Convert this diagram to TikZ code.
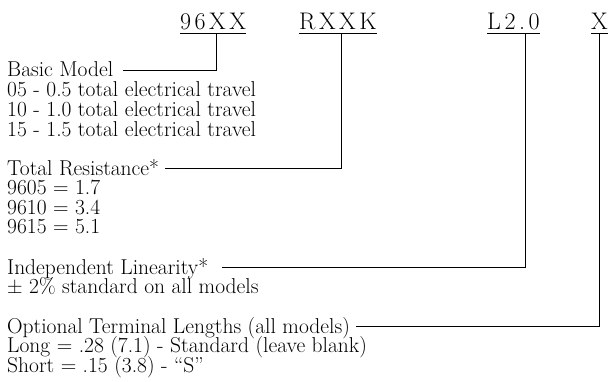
\documentclass[tikz,border=0pt]{standalone}
\usepackage{fontspec}
\usetikzlibrary{calc}
\newcommand{\gapk}{\kern3.5pt}
\begin{document}
\begin{tikzpicture}[x=1pt,y=-1pt,
  txt/.style={anchor=base west, inner sep=0pt, font=\fontsize{21.5}{22}\selectfont},
  code/.style={anchor=base west, inner sep=0pt, font=\fontsize{24}{26}\selectfont},
  conn/.style={line width=1pt},
]
\useasboundingbox (0,0) rectangle (608,381);
% part-number codes
\node[code] (c1) at (180,29) {9\gapk 6\gapk X\gapk X};
\node[code] (c2) at (299,29) {R\gapk X\gapk X\gapk K};
\node[code] (c3) at (487,29) {L\gapk 2\gapk .\gapk 0};
\node[code] (c4) at (591,29) {X};
\foreach \c in {c1,c2,c3,c4}{
  \draw[conn] ([yshift=-4pt]\c.base west) -- ([yshift=-4pt]\c.base east);
}
% descriptions
\node[txt] (t1) at (7,76.5) {Basic Model};
\node[txt] (t2) at (7,96.5) {05 - 0.5 total electrical travel};
\node[txt] (t3) at (7,116.5) {10 - 1.0 total electrical travel};
\node[txt] (t4) at (7,136.5) {15 - 1.5 total electrical travel};
\node[txt] (t5) at (7,175) {Total Resistance*};
\node[txt] (t6) at (7,194.5) {9605 = 1.7};
\node[txt] (t7) at (7,214) {9610 = 3.4};
\node[txt] (t8) at (7,233.5) {9615 = 5.1};
\node[txt] (t9) at (7,274) {Independent Linearity*};
\node[txt] (t10) at (7,293.5) {± 2\% standard on all models};
\node[txt] (t11) at (7,333) {Optional Terminal Lengths (all models)};
\node[txt] (t12) at (7,352.5) {Long = .28 (7.1) - Standard (leave blank)};
\node[txt] (t13) at (7,372) {Short = .15 (3.8) - “S”};
% connector ends
\coordinate (v1) at (216,33);
\coordinate (v2) at (341,33);
\coordinate (v3) at (525,33);
\coordinate (v4) at (599,33);
\coordinate (e1) at (123,70);
\coordinate (e2) at (165,168.5);
\coordinate (e3) at (222,267.5);
\coordinate (e4) at (356,326.5);
\draw[conn] (v1) |- (e1);
\draw[conn] (v2) |- (e2);
\draw[conn] (v3) |- (e3);
\draw[conn] (v4) |- (e4);
\end{tikzpicture}
\end{document}
